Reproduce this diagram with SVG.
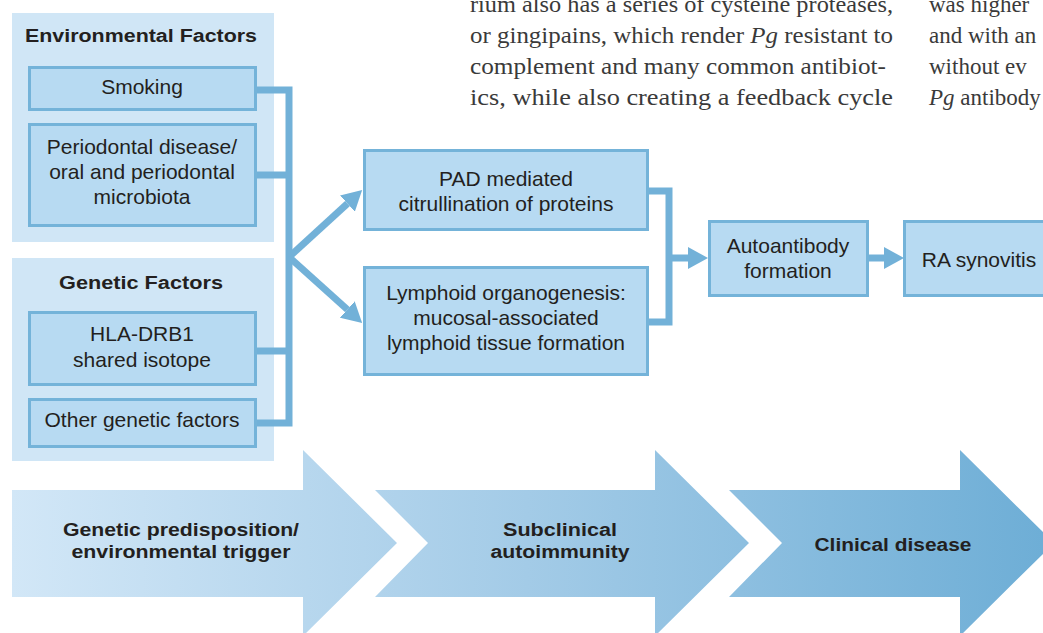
<svg xmlns="http://www.w3.org/2000/svg" width="1043" height="633" viewBox="0 0 1043 633">
<defs>
<linearGradient id="flow" gradientUnits="userSpaceOnUse" x1="12" y1="0" x2="1043" y2="0">
<stop offset="0" stop-color="#d2e7f7"/>
<stop offset="0.5" stop-color="#a3cbe7"/>
<stop offset="1" stop-color="#6eaed6"/>
</linearGradient>
<marker id="head" markerUnits="userSpaceOnUse" viewBox="0 0 20 22" markerWidth="20" markerHeight="22" refX="0" refY="11" orient="auto">
<path d="M0,0 L20,11 L0,22 z" fill="#72b1d8"/>
</marker>
<style>
.panel{fill:#d0e6f6}
.box{fill:#b7daf2;stroke:#74b3d9;stroke-width:3}
.t{font-family:"Liberation Sans",Arial,sans-serif;font-size:21px;fill:#231f20;text-anchor:middle}
.h{font-family:"Liberation Sans",Arial,sans-serif;font-size:18px;font-weight:bold;fill:#231f20;text-anchor:middle}
.body{font-family:"Liberation Serif","Times New Roman",serif;font-size:23px;fill:#3a3a3a}
.conn{fill:none;stroke:#72b1d8;stroke-width:7;stroke-linejoin:miter}
</style>
</defs>
<rect width="1043" height="633" fill="#ffffff"/>

<g id="bodytext" class="body">
<text x="470" y="12" textLength="423" lengthAdjust="spacingAndGlyphs">rium also has a series of cysteine proteases,</text>
<text x="470" y="43" textLength="423" lengthAdjust="spacingAndGlyphs">or gingipains, which render <tspan font-style="italic">Pg</tspan> resistant to</text>
<text x="470" y="74" textLength="416" lengthAdjust="spacingAndGlyphs">complement and many common antibiot-</text>
<text x="470" y="105" textLength="423" lengthAdjust="spacingAndGlyphs">ics, while also creating a feedback cycle</text>
<text x="929" y="12">was higher</text>
<text x="929" y="43">and with an</text>
<text x="929" y="74">without ev</text>
<text x="929" y="105"><tspan font-style="italic">Pg</tspan> antibody</text>
</g>

<g id="stages">
<path d="M12,490 H303 V450 L397,543 L303,636 V597 H12 Z" fill="url(#flow)"/>
<path d="M375,490 H655 V450 L749,543 L655,636 V597 H375 L428,543 Z" fill="url(#flow)"/>
<path d="M729,490 H960 V450 L1054,543 L960,636 V597 H729 L782,543 Z" fill="url(#flow)"/>
<text class="h" x="181" y="536" textLength="236" lengthAdjust="spacingAndGlyphs">Genetic predisposition/</text>
<text class="h" x="181" y="558" textLength="219" lengthAdjust="spacingAndGlyphs">environmental trigger</text>
<text class="h" x="560" y="536" textLength="114" lengthAdjust="spacingAndGlyphs">Subclinical</text>
<text class="h" x="560" y="558" textLength="139" lengthAdjust="spacingAndGlyphs">autoimmunity</text>
<text class="h" x="893" y="551" textLength="157" lengthAdjust="spacingAndGlyphs">Clinical disease</text>
</g>

<g id="env-panel">
<rect class="panel" x="12" y="13" width="262" height="229"/>
<text class="h" x="141" y="42" textLength="232" lengthAdjust="spacingAndGlyphs">Environmental Factors</text>
</g>
<g id="gen-panel">
<rect class="panel" x="12" y="258" width="262" height="203"/>
<text class="h" x="141" y="289" textLength="164" lengthAdjust="spacingAndGlyphs">Genetic Factors</text>
</g>

<g id="connectors">
<path class="conn" d="M257,90 H289 V423 H257 M257,175 H289 M257,351 H289"/>
<line class="conn" x1="289" y1="257" x2="347.4" y2="203.6" marker-end="url(#head)"/>
<line class="conn" x1="289" y1="257" x2="347.3" y2="309.5" marker-end="url(#head)"/>
<path class="conn" d="M649,191 H669 V322 H649 M669,258 H689"/>
<line class="conn" x1="869" y1="258" x2="884" y2="258" marker-end="url(#head)"/>
<path d="M688,247 L708,258 L688,269 Z" fill="#72b1d8"/>
</g>

<g id="smoking">
<rect class="box" x="29.5" y="67.5" width="226" height="42"/>
<text class="t" x="142" y="94">Smoking</text>
</g>
<g id="periodontal">
<rect class="box" x="29.5" y="124.5" width="226" height="101"/>
<text class="t" x="142" y="154">Periodontal disease/</text>
<text class="t" x="142" y="179">oral and periodontal</text>
<text class="t" x="142" y="204">microbiota</text>
</g>
<g id="hla">
<rect class="box" x="29.5" y="312.5" width="226" height="72"/>
<text class="t" x="142" y="341">HLA-DRB1</text>
<text class="t" x="142" y="367">shared isotope</text>
</g>
<g id="other-genetic">
<rect class="box" x="29.5" y="399.5" width="226" height="47"/>
<text class="t" x="142" y="427">Other genetic factors</text>
</g>
<g id="pad">
<rect class="box" x="364.5" y="150.5" width="283" height="79"/>
<text class="t" x="506" y="186">PAD mediated</text>
<text class="t" x="506" y="211">citrullination of proteins</text>
</g>
<g id="lymphoid">
<rect class="box" x="364.5" y="267.5" width="283" height="107"/>
<text class="t" x="506" y="300">Lymphoid organogenesis:</text>
<text class="t" x="506" y="325">mucosal-associated</text>
<text class="t" x="506" y="350">lymphoid tissue formation</text>
</g>
<g id="autoantibody">
<rect class="box" x="709.5" y="221.5" width="158" height="74"/>
<text class="t" x="788" y="253">Autoantibody</text>
<text class="t" x="788" y="278">formation</text>
</g>
<g id="ra-synovitis">
<rect class="box" x="904.5" y="221.5" width="150" height="74"/>
<text class="t" x="979" y="267">RA synovitis</text>
</g>
</svg>
